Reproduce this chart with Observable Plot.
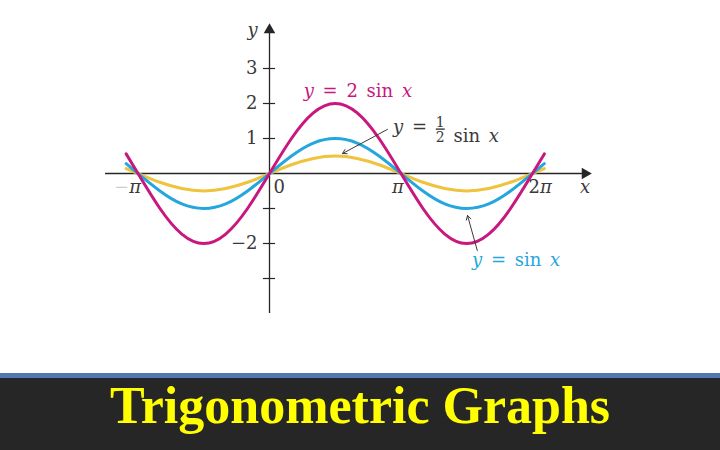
<!DOCTYPE html>
<html><head><meta charset="utf-8">
<script src="https://cdn.jsdelivr.net/npm/d3@7"></script>
<script src="https://cdn.jsdelivr.net/npm/@observablehq/plot@0.6"></script>
<style>
html,body{margin:0;padding:0;background:#fff;width:720px;height:450px;overflow:hidden}
#chart{height:373px}
#chart svg{display:block}
#banner{border-top:5px solid #4f79b0;background:#262626;height:72px;text-align:center;font-family:"Liberation Serif","Times New Roman",serif;font-weight:bold;font-size:52px;line-height:56px;color:#ffff00}
</style></head><body>
<div id="chart"></div>
<div id="banner">Trigonometric Graphs</div>
<script>
// x positions in multiples of π
const xPi      = [-1.09, -1, -0.833, -0.667, -0.5, -0.333, -0.167, 0, 0.167, 0.333, 0.5, 0.667, 0.833, 1, 1.167, 1.333, 1.5, 1.667, 1.833, 2, 2.09];
const sinX     = [0.28, 0, -0.5, -0.87, -1, -0.87, -0.5, 0, 0.5, 0.87, 1, 0.87, 0.5, 0, -0.5, -0.87, -1, -0.87, -0.5, 0, 0.28];
const halfSinX = [0.14, 0, -0.25, -0.43, -0.5, -0.43, -0.25, 0, 0.25, 0.43, 0.5, 0.43, 0.25, 0, -0.25, -0.43, -0.5, -0.43, -0.25, 0, 0.14];
const twoSinX  = [0.56, 0, -1, -1.73, -2, -1.73, -1, 0, 1, 1.73, 2, 1.73, 1, 0, -1, -1.73, -2, -1.73, -1, 0, 0.56];
const yTicks = [3, 2, 1, -1, -2, -3];
const yLabelVals = [3, 2, 1, -2];
const yLabelText = ["3", "2", "1", "−2"];
const labelTwo = ["y = 2 sin x"];
const labelHalf = ["y = 1/2 sin x"];
const labelOne = ["y = sin x"];

const magenta = "#c8177e", blue = "#25a6dd", yellow = "#efc33d", ink = "#262626", gray = "#3a3a3a";
const serif = "DejaVu Serif";

const rows = xPi.map((x, i) => ({x, half: halfSinX[i], one: sinX[i], two: twoSinX[i]}));
const yLabels = yLabelVals.map((v, i) => ({v, t: yLabelText[i]}));

const chart = Plot.plot({
  width: 720, height: 373,
  x: {domain: [-1, 2], range: [137.5, 532], axis: null},
  y: {domain: [-4, 4], range: [313, 33], axis: null},
  style: {fontFamily: serif, background: "transparent", color: gray},
  marks: [
    Plot.ruleY([0], {x1: -1.247, x2: 2.4, stroke: ink, strokeWidth: 1.3}),
    Plot.ruleX([0], {y1: -4, y2: 4.05, stroke: ink, strokeWidth: 1.3}),
    Plot.dot([0], {x: 2.4, y: 0, symbol: "triangle", r: 4.3, fill: ink, stroke: null, rotate: 90}),
    Plot.dot([0], {x: 0, y: 4.1, symbol: "triangle", r: 4.3, fill: ink, stroke: null}),
    Plot.ruleY(yTicks, {y: d => d, x1: -0.046, x2: 0.046, stroke: ink, strokeWidth: 1.2}),
    Plot.line(rows, {x: "x", y: "half", stroke: yellow, strokeWidth: 3, curve: "natural"}),
    Plot.line(rows, {x: "x", y: "one", stroke: blue, strokeWidth: 3, curve: "natural"}),
    Plot.line(rows, {x: "x", y: "two", stroke: magenta, strokeWidth: 3, curve: "natural"}),
    Plot.text(yLabels, {x: 0, y: "v", text: "t", textAnchor: "end", dx: -12, fontSize: 18, fill: gray}),
    Plot.text(["0"], {x: 0, y: 0, text: d => d, textAnchor: "start", dx: 4, dy: 14, fontSize: 18, fill: gray}),
    Plot.text(["−π"], {x: -1, y: 0, text: d => d, textAnchor: "end", dx: 3, dy: 14, fontSize: 18, fill: gray}),
    Plot.text(["π"], {x: 1, y: 0, text: d => d, textAnchor: "middle", dx: -3, dy: 14, fontSize: 18, fill: gray}),
    Plot.text(["2π"], {x: 2, y: 0, text: d => d, textAnchor: "start", dx: -4, dy: 14, fontSize: 18, fill: gray}),
    Plot.text(["x"], {x: 2.4, y: 0, text: d => d, textAnchor: "middle", dy: 14, fontSize: 18, fill: gray}),
    Plot.text(["y"], {x: 0, y: 4.09, text: d => d, textAnchor: "middle", dx: -17, fontSize: 18, fill: gray}),
    Plot.text(labelTwo, {x: 0.26, y: 2.34, text: d => d, textAnchor: "start", fontSize: 18, fill: magenta}),
    Plot.text(labelHalf, {x: 0.94, y: 1.31, text: d => d, textAnchor: "start", fontSize: 18, fill: gray}),
    Plot.text(labelOne, {x: 1.54, y: -2.49, text: d => d, textAnchor: "start", fontSize: 18, fill: blue}),
    Plot.arrow([0], {x1: 0.897, y1: 1.26, x2: 0.555, y2: 0.57, stroke: gray, strokeWidth: 1, headLength: 7}),
    Plot.arrow([0], {x1: 1.58, y1: -2.2, x2: 1.506, y2: -1.2, stroke: gray, strokeWidth: 1, headLength: 7})
  ]
});
document.getElementById("chart").appendChild(chart);

// math-style formatting: italic variables, stacked fraction
function fmt(s) {
  let out = "";
  const chars = [...s];
  for (let i = 0; i < chars.length; i++) {
    const c = chars[i];
    if (c === "1" && chars[i + 1] === "/" && chars[i + 2] === "2") {
      out += '<tspan font-size="14" dy="-6" text-decoration="underline">1</tspan>' +
             '<tspan font-size="14" dx="-8.9" dy="15">2</tspan>' +
             '<tspan dy="-9"></tspan>';
      i += 2;
    } else if (c === "x" || c === "y" || c === "π") {
      out += '<tspan font-style="italic">' + c + '</tspan>';
    } else if (c === "−" && chars[i + 1] === "π") {
      out += '<tspan fill="#cfcfcf">−</tspan>';
    } else {
      out += c;
    }
  }
  return out;
}
chart.querySelectorAll("text").forEach(t => {
  const s = t.textContent;
  if (/[xyπ]/.test(s)) {
    t.innerHTML = fmt(s);
    if (s.startsWith("y =")) t.setAttribute("word-spacing", "3");
  }
});
</script>
</body></html>
